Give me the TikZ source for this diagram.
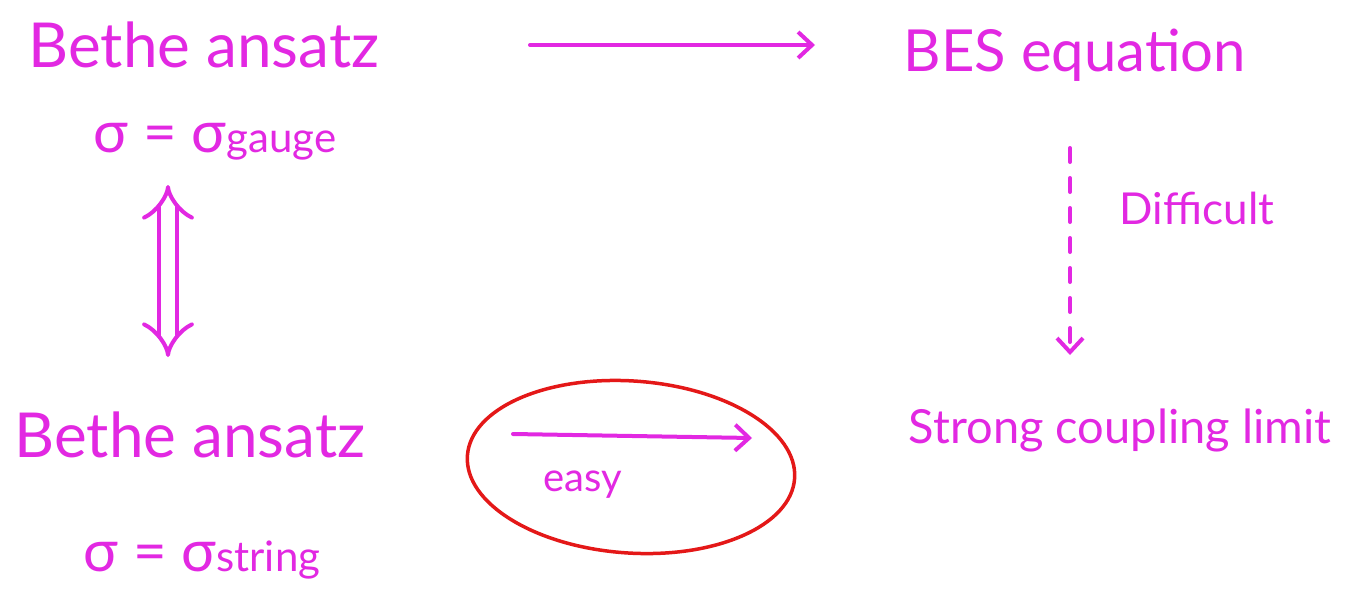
\documentclass[tikz,border=0pt]{standalone}
\usepackage{fontspec}
\setmainfont{Lato}
\usetikzlibrary{arrows.meta,shapes.geometric}
\definecolor{ink}{RGB}{226,40,226}
\definecolor{redink}{RGB}{228,24,24}
\newcommand{\fs}[1]{\fontsize{#1}{#1}\selectfont}
\newcommand{\sub}[1]{{\fs{42}#1}}
\tikzset{
  lbl/.style={text=ink, inner sep=0pt, anchor=center},
  pen/.style={draw=ink, line width=4pt, line cap=round},
  headarrow/.style={-{Straight Barb[length=14pt,width=26pt,line width=4pt]}}
}
\begin{document}
\begin{tikzpicture}[x=1pt,y=-1pt]
\useasboundingbox[fill=white] (0,0) rectangle (1348,605);
% texts
\node[lbl,font=\fs{62}] (ba1) at (204,45) {Bethe ansatz};
\node[lbl,font=\fs{58}] (sg) at (215,142) {σ = σ\sub{gauge}};
\node[lbl,font=\fs{62}] (ba2) at (190,435) {Bethe ansatz};
\node[lbl,font=\fs{58}] (ss) at (202,560) {σ = σ\sub{string}};
\node[lbl,font=\fs{58}] (bes) at (1075,55) {BES equation};
\node[lbl,font=\fs{44}] (diff) at (1197,208) {Difficult};
\node[lbl,font=\fs{47}] (scl) at (1120,430) {Strong coupling limit};
\node[lbl,font=\fs{40}] (easy) at (583,485) {easy};
% coordinates for connectors
\coordinate (t1) at (530,45);
\coordinate (t2) at (815,45);
\coordinate (d1) at (1070,148);
\coordinate (d2) at (1070,355);
\coordinate (v1) at (168,185);
\coordinate (v2) at (168,357);
\coordinate (e1) at (513,434);
\coordinate (e2) at (752,438);
% connectors
\draw[pen,headarrow] (t1) -- (t2);
\draw[pen,dashed,dash pattern=on 14pt off 16pt,headarrow] (d1) -- (d2);
\draw[draw=ink,line width=4pt,double=white,double distance=14pt,{Implies[length=12pt]}-{Implies[length=12pt]}] (v1) -- (v2);
\draw[pen,headarrow] (e1) -- (e2);
% red ellipse
\node[draw=redink,line width=3.5pt,ellipse,minimum width=328pt,minimum height=172pt,rotate=-4] (circ) at (631,467) {};
\end{tikzpicture}
\end{document}
